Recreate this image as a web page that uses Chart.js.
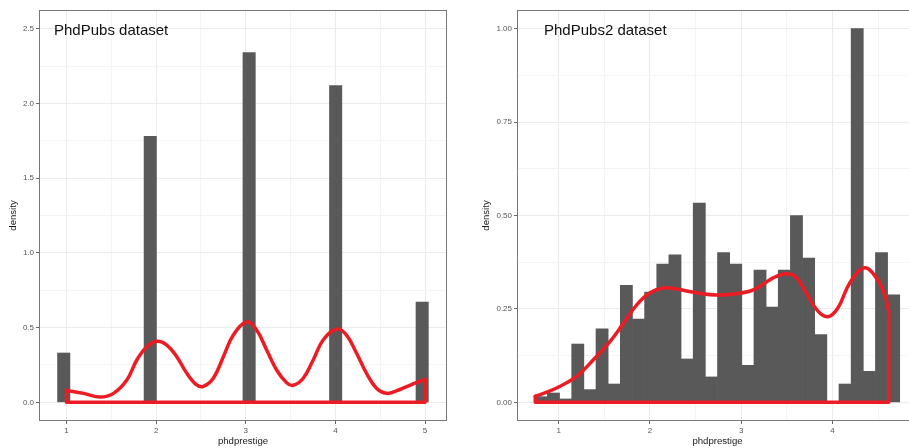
<!DOCTYPE html>
<html>
<head>
<meta charset="utf-8">
<script src="https://cdn.jsdelivr.net/npm/chart.js"></script>
<style>
  html, body { margin: 0; padding: 0; background: #fff; overflow: hidden; }
  #leftBox { position: absolute; left: 0; top: 0; width: 455px; height: 448px; }
  #rightBox { position: absolute; left: 455px; top: 0; width: 470px; height: 448px; }
</style>
</head>
<body>
<div id="leftBox"><canvas id="leftChart" width="455" height="448"></canvas></div>
<div id="rightBox"><canvas id="rightChart" width="470" height="448"></canvas></div>
<script>
// ---- PhdPubs (left): 30 bins, only the ones near the integers are filled
const leftBinStart = 0.9;
const leftBinWidth = 0.1379;
const leftDensity = [0.33, 0, 0, 0, 0, 0, 0, 1.78, 0, 0, 0, 0, 0, 0, 0,
                     2.34, 0, 0, 0, 0, 0, 0, 2.12, 0, 0, 0, 0, 0, 0, 0.67];
// density curve
const leftCurveX = [1.0, 1.19, 1.375, 1.524, 1.673, 1.784, 1.896, 2.007, 2.119, 2.23, 2.342, 2.453,
                    2.527, 2.638, 2.75, 2.861, 3.01, 3.121, 3.233, 3.344, 3.456, 3.53, 3.641, 3.752,
                    3.863, 4.013, 4.124, 4.236, 4.347, 4.458, 4.57, 4.68, 4.83, 5.0];
const leftCurveY = [0.08, 0.06, 0.035, 0.06, 0.149, 0.283, 0.372, 0.408, 0.383, 0.305, 0.194, 0.116,
                    0.107, 0.161, 0.305, 0.45, 0.538, 0.484, 0.35, 0.216, 0.131, 0.114, 0.161, 0.283,
                    0.417, 0.49, 0.45, 0.328, 0.194, 0.094, 0.06, 0.076, 0.114, 0.154];
// closing part of the outline (down the right side, back along zero)
const leftOutlineX = [5.0, 5.0, 1.0, 1.0];
const leftOutlineY = [0.154, 0, 0, 0.08];
const leftXTicks = [1, 2, 3, 4, 5];
const leftXMinor = [1.5, 2.5, 3.5, 4.5];
const leftYTicks = [0, 0.5, 1, 1.5, 2, 2.5];
const leftYMinor = [0.25, 0.75, 1.25, 1.75, 2.25];

// ---- PhdPubs2 (right)
const rightBinStart = 0.743;
const rightBinWidth = 0.1331;
const rightDensity = [0.015, 0.025, 0.009, 0.156, 0.034, 0.197, 0.049, 0.313, 0.223, 0.295,
                      0.370, 0.395, 0.116, 0.533, 0.068, 0.401, 0.370, 0.099, 0.354, 0.255,
                      0.354, 0.500, 0.386, 0.181, 0, 0.049, 1.000, 0.083, 0.401, 0.288];
const rightCurveX = [0.743, 0.87, 1.016, 1.2, 1.38, 1.563, 1.71, 1.855, 2.0, 2.145, 2.29, 2.51,
                     2.73, 2.95, 3.10, 3.20, 3.35, 3.49, 3.60, 3.71, 3.84, 3.95, 4.06, 4.19,
                     4.35, 4.48, 4.57, 4.615];
const rightCurveY = [0.016, 0.027, 0.043, 0.070, 0.114, 0.163, 0.212, 0.261, 0.293, 0.306, 0.303, 0.293,
                     0.287, 0.291, 0.298, 0.310, 0.333, 0.344, 0.335, 0.293, 0.244, 0.229, 0.253, 0.320,
                     0.360, 0.333, 0.288, 0.244];
const rightOutlineX = [4.615, 4.615, 0.743, 0.743];
const rightOutlineY = [0.244, 0, 0, 0.016];
const rightXTicks = [1, 2, 3, 4];
const rightXMinor = [1.5, 2.5, 3.5, 4.5];
const rightYTicks = [0, 0.25, 0.5, 0.75, 1];
const rightYMinor = [0.125, 0.375, 0.625, 0.875];

const FONT = '"Liberation Sans", Arial, sans-serif';
const RED = '#ec1c24';
const BAR = '#595959';

// kader rond het paneel + het label linksboven
const panelPlugin = {
    id: 'panel',
    afterDraw(chart, args, opts) {
        const { ctx, chartArea: a } = chart;
        ctx.save();
        ctx.strokeStyle = '#777';
        ctx.lineWidth = 1;
        ctx.strokeRect(a.left + 0.5, a.top + 0.5, a.right - a.left - 1, a.bottom - a.top - 1);
        ctx.fillStyle = '#111';
        ctx.font = '15px ' + FONT;
        ctx.textBaseline = 'alphabetic';
        ctx.textAlign = 'left';
        ctx.fillText(opts.text, a.left + opts.dx, chart.scales.y.getPixelForValue(opts.yValue) + 6);
        ctx.restore();
    }
};

function toPoints(xs, ys) {
    return xs.map((x, i) => ({ x: x, y: ys[i] }));
}

function binPoints(start, width, values) {
    return values.map((v, i) => ({ x: start + (i + 0.5) * width, y: v }));
}

function axis(min, max, majors, minors, fmt, title, titlePad, fit) {
    const isMinor = v => minors.some(m => Math.abs(m - v) < 1e-9);
    return {
        type: 'linear',
        min: min,
        max: max,
        offset: false,
        afterBuildTicks: s => {
            s.ticks = majors.concat(minors).sort((a, b) => a - b).map(v => ({ value: v }));
        },
        afterFit: fit,
        grid: {
            offset: false,
            lineWidth: 1,
            tickLength: 3,
            color: c => (c.tick && isMinor(c.tick.value)) ? '#f4f4f4' : '#ebebeb',
            tickColor: c => (c.tick && isMinor(c.tick.value)) ? 'rgba(0,0,0,0)' : '#666'
        },
        border: { display: false },
        ticks: {
            autoSkip: false,
            maxRotation: 0,
            padding: 2,
            color: '#555',
            font: { family: FONT, size: 8 },
            callback: v => isMinor(v) ? '' : fmt(v)
        },
        title: {
            display: true,
            text: title,
            color: '#1a1a1a',
            font: { family: FONT, size: 9.6 },
            padding: titlePad
        }
    };
}

function makeChart(id, bins, curve, outline, xs, ys, label, padding) {
    const line = {
        type: 'line',
        borderColor: RED,
        borderWidth: 3.5,
        pointRadius: 0,
        fill: false,
        borderCapStyle: 'round',
        borderJoinStyle: 'round',
        order: 1
    };
    return new Chart(document.getElementById(id), {
        type: 'bar',
        data: {
            datasets: [
                Object.assign({}, line, { data: curve, tension: 0.4 }),
                Object.assign({}, line, { data: outline, tension: 0 }),
                {
                    type: 'bar',
                    data: bins,
                    backgroundColor: BAR,
                    borderWidth: 0,
                    barPercentage: 1,
                    categoryPercentage: 1,
                    order: 2
                }
            ]
        },
        options: {
            responsive: false,
            animation: false,
            layout: { padding: padding },
            plugins: {
                legend: { display: false },
                tooltip: { enabled: false },
                panel: label
            },
            scales: { x: xs, y: ys }
        },
        plugins: [panelPlugin]
    });
}

makeChart('leftChart',
    binPoints(leftBinStart, leftBinWidth, leftDensity),
    toPoints(leftCurveX, leftCurveY),
    toPoints(leftOutlineX, leftOutlineY),
    axis(0.693, 5.245, leftXTicks, leftXMinor, v => String(v), 'phdprestige', { top: 0, bottom: 1 }, s => { s.height = 27; }),
    axis(-0.125, 2.625, leftYTicks, leftYMinor, v => v.toFixed(1), 'density', { top: 8, bottom: 0 }, s => { s.width = 39; }),
    { text: 'PhdPubs dataset', dx: 15, yValue: 2.5 },
    { left: 0, top: 10, right: 8, bottom: 0 });

makeChart('rightChart',
    binPoints(rightBinStart, rightBinWidth, rightDensity),
    toPoints(rightCurveX, rightCurveY),
    toPoints(rightOutlineX, rightOutlineY),
    axis(0.543, 4.936, rightXTicks, rightXMinor, v => String(v), 'phdprestige', { top: 0, bottom: 1 }, s => { s.height = 27; }),
    axis(-0.05, 1.05, rightYTicks, rightYMinor, v => v.toFixed(2), 'density', { top: 26, bottom: 0 }, s => { s.width = 62; }),
    { text: 'PhdPubs2 dataset', dx: 27, yValue: 1.0 },
    { left: 0, top: 10, right: 7, bottom: 0 });
</script>
</body>
</html>
